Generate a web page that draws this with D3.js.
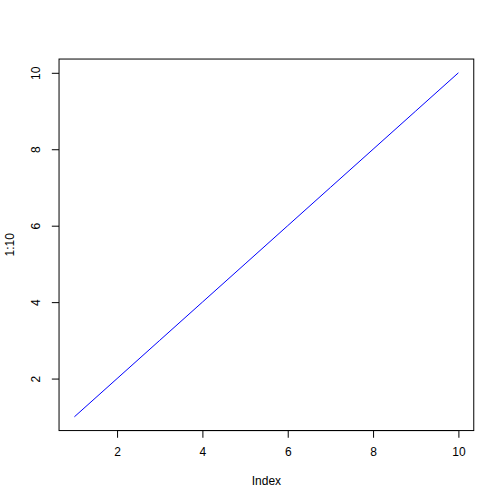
<!DOCTYPE html>
<html>
<head>
<meta charset="utf-8">
<script src="https://cdn.jsdelivr.net/npm/d3@7"></script>
<style>
  body { margin: 0; background: #fff; }
  svg text { font-family: "Liberation Sans", Arial, sans-serif; font-size: 12px; fill: #000; }
</style>
</head>
<body>
<div id="chart"></div>
<script>
let xValues = [1, 2, 3, 4, 5, 6, 7, 8, 9, 10],
    yValues = [1, 2, 3, 4, 5, 6, 7, 8, 9, 10],
    xTicks = [2, 4, 6, 8, 10],
    yTicks = [2, 4, 6, 8, 10],
    xLabel = "Index",
    yLabel = "1:10";

const width = 504,
      height = 504,
      lineH = 14.4,
      margin = { top: 4.1 * lineH, right: 2.1 * lineH, bottom: 5.1 * lineH, left: 4.1 * lineH };

function createGraph() {
    const svg = d3.select("#chart")
        .append("svg")
        .attr("width", width)
        .attr("height", height);

    // Scales, extended 4% like R
    const xExt = d3.extent(xValues), yExt = d3.extent(yValues);
    const xPad = (xExt[1] - xExt[0]) * 0.04, yPad = (yExt[1] - yExt[0]) * 0.04;

    const xScale = d3.scaleLinear()
        .domain([xExt[0] - xPad, xExt[1] + xPad])
        .range([margin.left, width - margin.right]);

    const yScale = d3.scaleLinear()
        .domain([yExt[0] - yPad, yExt[1] + yPad])
        .range([height - margin.bottom, margin.top]);

    // Line
    const line = d3.line()
        .x((d, i) => xScale(xValues[i]))
        .y(d => yScale(d));

    svg.append("path")
        .datum(yValues)
        .attr("fill", "none")
        .attr("stroke", "#0000ff")
        .attr("stroke-width", 1)
        .attr("d", line);

    // Axes
    const xAxis = d3.axisBottom(xScale)
        .tickValues(xTicks)
        .tickSize(7.2)
        .tickFormat(d3.format("d"));

    const yAxis = d3.axisLeft(yScale)
        .tickValues(yTicks)
        .tickSize(7.2)
        .tickFormat(d3.format("d"));

    const gx = svg.append("g")
        .attr("transform", "translate(0," + (height - margin.bottom) + ")")
        .call(xAxis);
    gx.select(".domain").remove();
    gx.selectAll("text").attr("y", 16.5).attr("dy", "0.71em").style("font-size", "12px");

    const gy = svg.append("g")
        .attr("transform", "translate(" + margin.left + ",0)")
        .call(yAxis);
    gy.select(".domain").remove();
    gy.selectAll("text")
        .attr("x", null).attr("dy", null)
        .attr("text-anchor", "middle")
        .attr("transform", "translate(" + (-lineH - 4.5) + ",0) rotate(-90)")
        .style("font-size", "12px");

    // Axis line spanning the tick range (as R draws it)
    svg.append("line")
        .attr("x1", xScale(xTicks[0])).attr("x2", xScale(xTicks[xTicks.length - 1]))
        .attr("y1", height - margin.bottom).attr("y2", height - margin.bottom)
        .attr("stroke", "#000");

    // Box
    svg.append("rect")
        .attr("x", margin.left)
        .attr("y", margin.top)
        .attr("width", width - margin.left - margin.right)
        .attr("height", height - margin.top - margin.bottom)
        .attr("fill", "none")
        .attr("stroke", "#000");

    // Titles
    svg.append("text")
        .attr("x", (margin.left + width - margin.right) / 2)
        .attr("y", height - margin.bottom + 3 * lineH + 11)
        .attr("text-anchor", "middle")
        .text(xLabel);

    svg.append("text")
        .attr("transform", "translate(" + (margin.left - 3 * lineH - 2) + "," + ((margin.top + height - margin.bottom) / 2) + ") rotate(-90)")
        .attr("text-anchor", "middle")
        .text(yLabel);
}

createGraph();
</script>
</body>
</html>
